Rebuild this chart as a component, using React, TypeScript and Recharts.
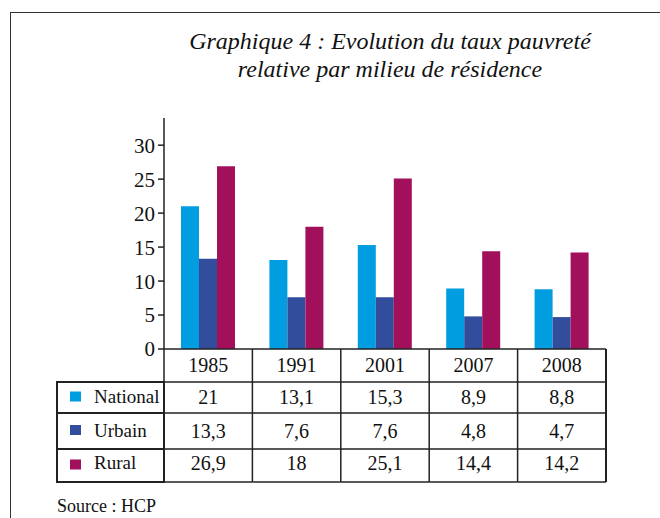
import { BarChart, Bar, XAxis, YAxis } from 'recharts';

const years = ['1985', '1991', '2001', '2007', '2008'];
const national = [21, 13.1, 15.3, 8.9, 8.8];
const urbain = [13.3, 7.6, 7.6, 4.8, 4.7];
const rural = [26.9, 18, 25.1, 14.4, 14.2];
const yTicks = [0, 5, 10, 15, 20, 25, 30];

const series = [
  { key: 'national', label: 'National', values: national },
  { key: 'urbain', label: 'Urbain', values: urbain },
  { key: 'rural', label: 'Rural', values: rural },
];

const colors: Record<string, string> = {
  national: '#009ee0',
  urbain: '#314d9b',
  rural: '#a20f5b',
};

const data = years.map((year, i) => ({
  year,
  national: national[i],
  urbain: urbain[i],
  rural: rural[i],
}));

const FONT = '"Liberation Serif", "Times New Roman", serif';
const W = 660;
const H = 518;
const PLOT_LEFT = 164;
const PLOT_RIGHT = 606;
const PLOT_TOP = 118;
const BASE = 349;
const BAND = (PLOT_RIGHT - PLOT_LEFT) / years.length;

// table row geometry, relative to the x axis line
const rowLines = [33, 64, 100, 133];
const rowBaselines = [23, 55, 89, 121];
const LABEL_LEFT = 57;

const fmt = (v: number) => String(v).replace('.', ',');

function TableTick(props: any) {
  const { x, y, index } = props;
  const left = x - BAND / 2;
  const right = x + BAND / 2;
  const last = index === years.length - 1;
  return (
    <g fontFamily={FONT}>
      {index === 0 && (
        <line x1={left} x2={left} y1={y} y2={y + rowLines[3]} stroke="#222" strokeWidth={1.5} />
      )}
      <line x1={right} x2={right} y1={y} y2={y + rowLines[3]} stroke="#222" strokeWidth={last ? 2 : 1.5} />
      {rowLines.map((d) => (
        <line key={d} x1={left} x2={right} y1={y + d} y2={y + d} stroke="#222" strokeWidth={1.5} />
      ))}
      <text x={x} y={y + rowBaselines[0]} textAnchor="middle" fontSize={20} fill="#111">
        {years[index]}
      </text>
      {series.map((s, r) => (
        <text key={s.key} x={x} y={y + rowBaselines[r + 1]} textAnchor="middle" fontSize={20} fill="#111">
          {fmt(s.values[index])}
        </text>
      ))}
      {index === 0 &&
        series.map((s, r) => {
          const top = y + rowLines[r];
          const bottom = y + rowLines[r + 1];
          return (
            <g key={s.key}>
              <rect
                x={LABEL_LEFT}
                y={top}
                width={left - LABEL_LEFT}
                height={bottom - top}
                fill="#fff"
                stroke="#222"
                strokeWidth={2}
              />
              <rect x={70} y={(top + bottom) / 2 - 6} width={11} height={10} fill={colors[s.key]} />
              <text x={94} y={y + rowBaselines[r + 1] - 1} fontSize={19} fill="#111">
                {s.label}
              </text>
            </g>
          );
        })}
    </g>
  );
}

export default function App() {
  return (
    <div
      style={{
        position: 'absolute',
        left: 0,
        top: 0,
        width: W,
        height: H,
        background: '#fff',
        overflow: 'hidden',
        fontFamily: FONT,
      }}
    >
      <div
        style={{
          position: 'absolute',
          left: 10,
          top: 12,
          width: W,
          height: H,
          borderLeft: '1px solid #333',
          borderTop: '1px solid #333',
        }}
      />
      <div
        style={{
          position: 'absolute',
          left: 160,
          width: 460,
          top: 27,
          textAlign: 'center',
          fontStyle: 'italic',
          fontSize: 24,
          lineHeight: '28px',
          color: '#111',
          whiteSpace: 'nowrap',
        }}
      >
        <div>Graphique 4 : Evolution du taux pauvreté</div>
        <div>relative par milieu de résidence</div>
      </div>
      <div style={{ position: 'absolute', left: 0, top: 0 }}>
        <BarChart
          width={W}
          height={H}
          data={data}
          margin={{ top: PLOT_TOP, right: W - PLOT_RIGHT, bottom: 0, left: 0 }}
          barGap={0}
          barSize={18}
        >
          <XAxis
            dataKey="year"
            height={H - BASE}
            interval={0}
            tickSize={0}
            tickMargin={0}
            tickLine={false}
            axisLine={{ stroke: '#222', strokeWidth: 1.5 }}
            tick={(p: any) => <TableTick {...p} />}
          />
          <YAxis
            width={PLOT_LEFT}
            domain={[0, 34]}
            ticks={yTicks}
            interval={0}
            tickSize={6}
            tickMargin={3}
            axisLine={{ stroke: '#222', strokeWidth: 1.5 }}
            tickLine={{ stroke: '#222', strokeWidth: 1.5 }}
            tick={{ fill: '#111', fontSize: 21, fontFamily: FONT }}
          />
          {series.map((s) => (
            <Bar key={s.key} dataKey={s.key} fill={colors[s.key]} isAnimationActive={false} />
          ))}
        </BarChart>
      </div>
      <div
        style={{
          position: 'absolute',
          left: 57,
          top: 494,
          fontSize: 18,
          lineHeight: '24px',
          color: '#111',
        }}
      >
        Source : HCP
      </div>
    </div>
  );
}
